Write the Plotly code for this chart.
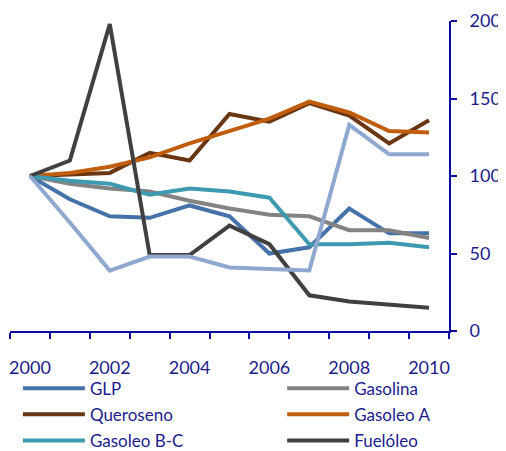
import plotly.graph_objects as go

years = list(range(2000, 2011))
glp = [100, 85, 74, 73, 81, 74, 50, 54, 79, 63, 63]
gasolina = [100, 95, 92, 90, 84, 79, 75, 74, 65, 65, 60]
queroseno = [100, 101, 102, 115, 110, 140, 135, 147, 139, 121, 136]
gasoleo_a = [100, 102, 106, 112, 121, 129, 137, 148, 141, 129, 128]
gasoleo_bc = [100, 97, 95, 88, 92, 90, 86, 56, 56, 57, 54]
fueloleo = [100, 110, 198, 49, 49, 68, 56, 23, 19, 17, 15]
otros = [100, 70, 39, 48, 48, 41, 40, 39, 133, 114, 114]

series = [
    ("GLP", glp, "#4672AA", "legend"),
    ("Gasolina", gasolina, "#838383", "legend2"),
    ("Queroseno", queroseno, "#6A3511", "legend"),
    ("Gasoleo A", gasoleo_a, "#C05E0E", "legend2"),
    ("Gasoleo B-C", gasoleo_bc, "#3E9AB0", "legend"),
    ("Fuelóleo", fueloleo, "#404040", "legend2"),
    ("Otros", otros, "#8FA8D0", None),
]

axis_col = "#0A0A9E"
text_col = "#1C1C8C"
font = dict(family="Lato", size=18, color=text_col)
leg_font = dict(family="Lato", size=17, color=text_col)

fig = go.Figure()
for name, vals, col, leg in series:
    tr = go.Scatter(x=years, y=vals, mode="lines", name=name, legendgroup=name,
                    line=dict(color=col, width=4), showlegend=leg is not None)
    if leg:
        tr.legend = leg
    fig.add_trace(tr)

leg_common = dict(orientation="v", yanchor="top", xanchor="left", y=-0.128,
                  font=leg_font, tracegroupgap=1, itemwidth=62,
                  bgcolor="rgba(0,0,0,0)")

# page has an 8px body margin; figure sized so that the plot lands where the reference has it
fig.update_layout(
    width=498, height=443,
    margin=dict(l=2, r=57, t=13, b=120, autoexpand=False),
    paper_bgcolor="white", plot_bgcolor="white",
    font=font,
    showlegend=True,
    legend=dict(x=0.018, **leg_common),
    legend2=dict(x=0.62, **leg_common),
    xaxis=dict(range=[1999.5, 2010.5], tickvals=[2000, 2002, 2004, 2006, 2008, 2010],
               ticktext=["2000", "2002", "2004", "2006", "2008", "2010"],
               ticks="", showgrid=False, zeroline=False,
               showline=True, linecolor=axis_col, linewidth=2,
               ticklabelstandoff=19,
               minor=dict(ticks="outside", tick0=1999.5, dtick=1, ticklen=6,
                          tickcolor=axis_col, tickwidth=2, showgrid=False)),
    yaxis=dict(range=[0, 200], dtick=50, side="right", ticks="outside",
               ticklen=6, tickcolor=axis_col, tickwidth=2,
               showgrid=False, zeroline=False, showline=True,
               linecolor=axis_col, linewidth=2, ticklabelstandoff=9),
)

fig.write_html("out.html")
